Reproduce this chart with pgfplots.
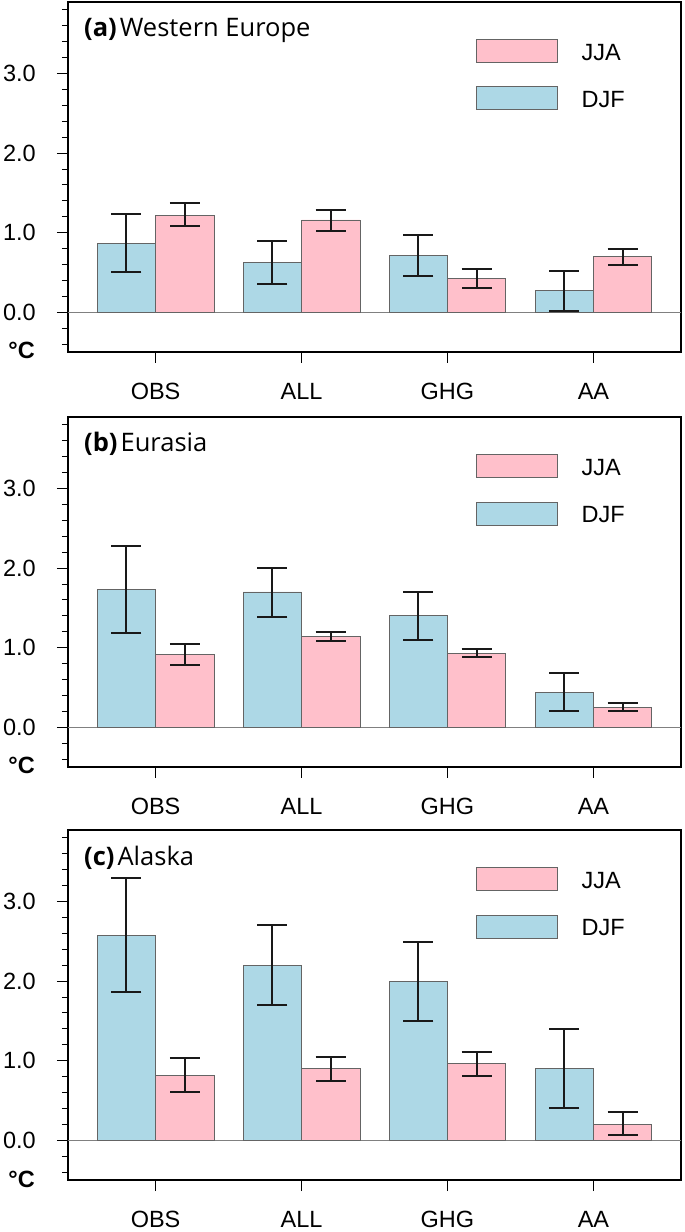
\documentclass[border=0pt]{standalone}
\usepackage{pgfplots}
\pgfplotsset{compat=1.18}
\usepackage{pgfplotstable}
\usepackage{fontspec}
\setmainfont{Liberation Sans}
\newfontfamily\titlefont{Open Sans}
\definecolor{djf}{RGB}{173,216,230}
\definecolor{jja}{RGB}{255,192,203}
\definecolor{edge}{RGB}{100,100,100}

% categories at 0=OBS 1=ALL 2=GHG 3=AA ; xd/xj = bar centres ; p = error plus, m = error minus
\pgfplotstableread{
xd xj djf djfp djfm jja jjap jjam
-0.2 0.2 0.87 0.36 0.37 1.22 0.15 0.14
0.8 1.2 0.63 0.27 0.27 1.16 0.12 0.14
1.8 2.2 0.71 0.26 0.25 0.43 0.11 0.12
2.8 3.2 0.27 0.25 0.26 0.70 0.10 0.11
}\tabA
\pgfplotstableread{
xd xj djf djfp djfm jja jjap jjam
-0.2 0.2 1.73 0.55 0.54 0.92 0.12 0.14
0.8 1.2 1.70 0.30 0.31 1.14 0.06 0.06
1.8 2.2 1.40 0.30 0.30 0.93 0.05 0.05
2.8 3.2 0.44 0.24 0.24 0.25 0.05 0.05
}\tabB
\pgfplotstableread{
xd xj djf djfp djfm jja jjap jjam
-0.2 0.2 2.58 0.72 0.72 0.82 0.21 0.21
0.8 1.2 2.20 0.50 0.50 0.90 0.15 0.15
1.8 2.2 2.00 0.49 0.50 0.96 0.15 0.15
2.8 3.2 0.90 0.50 0.50 0.20 0.15 0.14
}\tabC

\tikzset{ylab/.style={anchor=east, inner sep=0pt, xshift=-32pt, font=\fontsize{23.5}{27}\selectfont}}

\pgfplotsset{
  boxlegend/.style={legend image code/.code={\draw[##1,line width=0.8pt] (0pt,-10.8pt) rectangle (81pt,12.2pt);}},
  panel/.style={
    width=613pt, height=350pt, scale only axis,
    xmin=-0.6, xmax=3.6, ymin=-0.5, ymax=3.9,
    xtick={0,1,2,3}, xticklabels={OBS,ALL,GHG,AA},
    ytick={0,1,2,3},
    yticklabels={},
    minor ytick={-0.4,-0.2,0.2,0.4,0.6,0.8,1.2,1.4,1.6,1.8,2.2,2.4,2.6,2.8,3.2,3.4,3.6,3.8},
    tick align=outside, xtick pos=bottom, ytick pos=left,
    major tick length=11pt, minor tick length=6pt,
    tick style={line width=1pt, black},
    axis line style={line width=1.2pt, black},
    every tick label/.append style={font=\fontsize{23.5}{27}\selectfont},
    every x tick label/.append style={yshift=-17pt},
    legend style={draw=none, fill=none, at={(rel axis cs:0.660,0.900)}, anchor=north west,
      font=\fontsize{23.5}{27}\selectfont, row sep=23.5pt,
      nodes={inner sep=0pt, text height=17pt, text depth=0pt},
      /tikz/every odd column/.style={column sep=24pt}},
    legend cell align=left,
    reverse legend,
    clip=false,
  },
  errs/.style={error bars/y dir=both, error bars/y explicit,
    error bars/error bar style={line width=2pt, black!90},
    error bars/error mark options={rotate=90, mark size=15pt, line width=2pt, black!90}},
  djfbar/.style={ybar, bar width=58.4pt, bar shift=0pt, fill=djf, draw=edge, line width=0.8pt, boxlegend, errs},
  jjabar/.style={ybar, bar width=58.4pt, bar shift=0pt, fill=jja, draw=edge, line width=0.8pt, boxlegend, errs},
}

\newcommand{\paneltitle}[2]{\node[anchor=base west, inner sep=0pt] at (rel axis cs:0,1) [xshift=16pt, yshift=-35pt]
  {\titlefont\fontsize{25.5}{29}\selectfont\textbf{(#1)}\hspace{3pt}#2};}
\newcommand{\degC}{\node[anchor=base east, inner sep=0pt] at (rel axis cs:0,0) [xshift=-33pt, yshift=-7pt]
  {\fontsize{23.5}{27}\selectfont\bfseries °C};}
\newcommand{\ylabs}{%
  \node[ylab] at (axis cs:-0.6,0) {0.0};
  \node[ylab] at (axis cs:-0.6,1) {1.0};
  \node[ylab] at (axis cs:-0.6,2) {2.0};
  \node[ylab] at (axis cs:-0.6,3) {3.0};}

\begin{document}
\begin{tikzpicture}
\path[use as bounding box] (-68pt,-52pt) rectangle (617pt,1180pt);

% (a)
\begin{axis}[panel, at={(0pt,828pt)}, anchor=south west]
\addplot[gray, line width=0.8pt, forget plot] coordinates {(-0.6,0) (3.6,0)};
\addplot[djfbar] table[x=xd, y=djf, y error plus=djfp, y error minus=djfm] {\tabA};
\addplot[jjabar] table[x=xj, y=jja, y error plus=jjap, y error minus=jjam] {\tabA};
\legend{DJF,JJA}
\paneltitle{a}{Western Europe}
\degC
\ylabs
\end{axis}

% (b)
\begin{axis}[panel, at={(0pt,413pt)}, anchor=south west]
\addplot[gray, line width=0.8pt, forget plot] coordinates {(-0.6,0) (3.6,0)};
\addplot[djfbar] table[x=xd, y=djf, y error plus=djfp, y error minus=djfm] {\tabB};
\addplot[jjabar] table[x=xj, y=jja, y error plus=jjap, y error minus=jjam] {\tabB};
\legend{DJF,JJA}
\paneltitle{b}{Eurasia}
\degC
\ylabs
\end{axis}

% (c)
\begin{axis}[panel, at={(0pt,0pt)}, anchor=south west]
\addplot[gray, line width=0.8pt, forget plot] coordinates {(-0.6,0) (3.6,0)};
\addplot[djfbar] table[x=xd, y=djf, y error plus=djfp, y error minus=djfm] {\tabC};
\addplot[jjabar] table[x=xj, y=jja, y error plus=jjap, y error minus=jjam] {\tabC};
\legend{DJF,JJA}
\paneltitle{c}{Alaska}
\degC
\ylabs
\end{axis}
\end{tikzpicture}
\end{document}
